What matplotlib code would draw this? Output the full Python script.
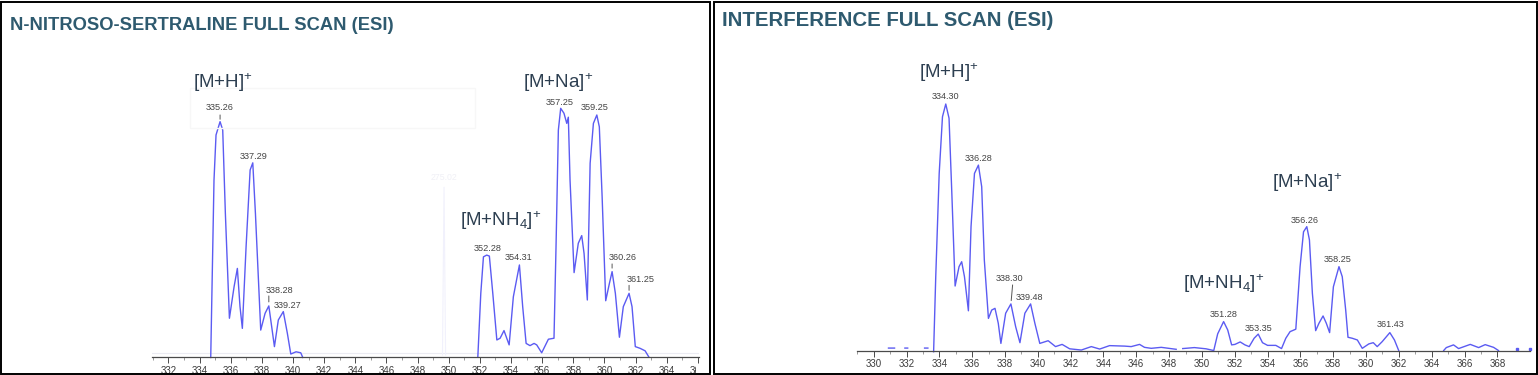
import numpy as np
import matplotlib
matplotlib.use('Agg')
import matplotlib.pyplot as plt
from matplotlib.patches import Rectangle
from matplotlib.transforms import Bbox, TransformedBbox

# ---- data: N-nitroso-sertraline full scan (m/z, relative intensity %)
nns_mz = [334.72, 334.93, 335.06, 335.32, 335.49, 335.66, 335.92, 336.22, 336.43, 336.60,
          336.75, 336.99, 337.25, 337.42, 337.59, 337.93, 338.21, 338.45, 338.81, 339.06,
          339.38, 339.64, 339.86, 340.20, 340.50, 340.63, np.nan,
          351.87, 352.06, 352.23, 352.44, 352.61, 352.83, 353.09, 353.30, 353.55, 353.88,
          354.15, 354.54, 354.75, 354.97, 355.22, 355.48, 355.65, 355.97, 356.40, 356.76,
          356.89, 357.04, 357.19, 357.40, 357.58, 357.68, 357.79, 358.05, 358.32, 358.54,
          358.69, 358.90, 359.08, 359.29, 359.51, 359.67, 359.85, 360.08, 360.32, 360.49,
          360.70, 360.96, 361.21, 361.58, 361.77, 361.98, 362.29, 362.61, 362.84]
nns_int = [-1.0, 70.9, 89.2, 94.6, 91.2, 57.4, 14.9, 27.7, 35.1, 19.6,
           10.8, 43.9, 75.0, 77.9, 57.4, 10.1, 16.9, 19.9, 3.4, 14.2,
           17.6, 8.8, 0.4, 1.3, 0.9, -1.0, np.nan,
           -0.7, 25.0, 39.8, 40.5, 40.1, 25.0, 6.1, 6.8, 9.9, 4.1,
           23.6, 36.5, 19.6, 4.7, 3.8, 4.7, 4.1, 0.9, 6.4, 6.8,
           43.9, 91.2, 100.0, 98.0, 93.9, 96.4, 70.9, 33.4, 45.3, 48.4,
           41.2, 22.3, 77.7, 93.9, 97.3, 92.5, 64.2, 22.0, 29.1, 33.8,
           25.0, 7.2, 19.6, 25.0, 19.6, 3.4, 2.7, 1.7, -0.7]
nns_ghost_mz = [349.60, 349.70, 349.80]
nns_ghost_int = [0.0, 68.0, 0.0]
nns_noise_mz = [330.93, 366.1]
nns_noise_int = [0.8, 0.8]

nns_labels = ['335.26', '337.29', '338.28', '339.27', '352.28', '354.31',
              '357.25', '359.25', '360.26', '361.25']
nns_label_mz = [335.32, 337.42, 338.45, 339.38, 352.44, 354.54,
                357.19, 359.51, 360.49, 361.58]
nns_label_int = [94.6, 77.9, 19.9, 17.6, 40.5, 36.5, 100.0, 97.3, 33.8, 25.0]
nns_ticks = list(range(332, 368, 2))

# ---- data: interference full scan
itf_mz = [330.90, 331.27, np.nan, 331.90, 332.07, np.nan, 333.10, 333.30, np.nan,
          333.65, 333.78, 333.99, 334.19, 334.39, 334.59, 334.76, 334.96, 335.20, 335.36,
          335.53, 335.77, 335.93, 336.14, 336.38, 336.58, 336.74, 336.99, 337.19, 337.39,
          337.59, 337.75, 338.04, 338.36, 338.65, 338.91, 339.21, 339.56, 339.82, 340.12,
          340.63, 341.08, 341.48, 341.94, 342.65, 343.26, 343.77, 344.37, 345.29, 345.69,
          346.20, 346.50, 346.91, 347.52, 348.43, np.nan,
          348.83, 349.54, 350.25, 350.72, 350.96, 351.32, 351.57, 351.81, 352.01, 352.33,
          352.62, 352.88, 353.18, 353.43, 353.69, 354.00, 354.50, 354.85, 355.11, 355.37,
          355.72, 355.98, 356.19, 356.39, 356.55, 356.73, 356.93, 357.13, 357.38, 357.58,
          357.78, 358.01, 358.35, 358.55, 358.76, 358.90, 359.16, 359.47, 359.77, 360.17,
          360.44, 360.68, 360.98, 361.45, 361.73, 361.99, np.nan,
          364.73, 364.89, 365.33, 365.64, 366.35, 366.86, 367.26, 367.77, 368.07]
itf_int = [0.5, 0.5, np.nan, 0.5, 0.5, np.nan, 0.5, 0.5, np.nan,
           -1.0, 29.6, 71.7, 94.8, 100.0, 94.2, 63.6, 25.8, 33.7, 35.7,
           29.6, 15.7, 50.0, 71.7, 75.1, 66.3, 36.4, 12.6, 16.0, 16.7,
           10.6, 2.4, 14.7, 18.5, 9.2, 2.7, 14.7, 18.5, 10.6, 2.4,
           3.5, 1.1, 2.0, 0.2, -0.3, 1.1, 0.1, 1.5, 1.3, 1.1,
           2.0, 0.8, 0.4, 0.8, 0.0, np.nan,
           0.3, 0.7, 0.2, -0.5, 6.3, 11.3, 7.9, 1.8, 2.0, 3.0,
           1.8, 1.1, 4.5, 6.2, 2.7, 1.6, 1.6, 0.3, 4.5, 7.2,
           8.2, 33.7, 47.9, 50.0, 44.6, 22.8, 7.6, 10.6, 13.6, 10.6,
           6.8, 25.5, 33.7, 29.6, 16.0, 4.9, 4.5, 3.8, 0.4, 2.2,
           2.7, 1.1, 3.1, 6.8, 3.8, -0.5, np.nan,
           -0.5, 0.7, 1.8, 0.3, 2.0, 0.7, 1.9, 0.8, -0.5]
itf_dot_mz = [369.19, 370.0]
itf_dot_int = [0.0, 0.0]

itf_labels = ['334.30', '336.28', '338.30', '339.48', '351.28', '353.35',
              '356.26', '358.25', '361.43']
itf_label_mz = [334.39, 336.38, 338.36, 339.56, 351.32, 353.43, 356.39, 358.35, 361.45]
itf_label_int = [100.0, 75.1, 18.5, 18.5, 11.3, 6.2, 50.0, 33.7, 6.8]
itf_ticks = list(range(330, 370, 2))

# ---- style / layout
W, H = 1538, 375
TRACE = '#5b5bf2'
TITLE = '#2e5a6f'
ION = '#2d3f51'
GREY = '#3c3c3c'
SANS = ['Liberation Sans', 'DejaVu Sans']
NARROW = ['Liberation Sans Narrow', 'Liberation Sans', 'DejaVu Sans']

plt.rcParams['mathtext.fontset'] = 'custom'
plt.rcParams['mathtext.rm'] = 'Liberation Sans'
plt.rcParams['mathtext.it'] = 'Liberation Sans'


def box(left, top, right, bottom):
    return [left / W, 1 - bottom / H, (right - left) / W, (bottom - top) / H]


def fx(x):
    return x / W


def fy(y):
    return 1 - y / H


fig = plt.figure(figsize=(W / 100, H / 100), dpi=100)

# panel frames
for l, r in [(0.5, 709.5), (713.5, 1536.5)]:
    fig.patches.append(Rectangle((fx(l), fy(374)), fx(r - l), (373 - 1) / H,
                                 transform=fig.transFigure, fill=False,
                                 edgecolor='black', lw=1.4))


def style_axis(ax, ticks, xlim, ylim):
    ax.set_xlim(*xlim)
    ax.set_ylim(*ylim)
    ax.set_yticks([])
    for s in ['top', 'right', 'left']:
        ax.spines[s].set_visible(False)
    ax.spines['bottom'].set_color('#4a4a4a')
    ax.spines['bottom'].set_linewidth(0.9)
    ax.set_facecolor('none')
    ax.set_xticks(ticks)
    ax.set_xticks(np.arange(ticks[0] - 1, ticks[-1] + 1, 1), minor=True)
    ax.tick_params(axis='x', which='major', length=4, width=0.7, color='#4a4a4a',
                   labelsize=7, labelcolor=GREY, pad=2)
    ax.tick_params(axis='x', which='minor', length=2, width=0.6, color='#8a8a8a')
    for lbl in ax.get_xticklabels():
        lbl.set_family(NARROW)


def peak_labels(ax, texts, mz, inten, offs, ticks):
    for t, x, y, (dx, dy), tk in zip(texts, mz, inten, offs, ticks):
        ax.annotate(t, xy=(x, y), xytext=(dx * 0.72, dy * 0.72), textcoords='offset points',
                    ha='center', va='center', fontsize=6.6, color='#454545',
                    family=NARROW, annotation_clip=False)
        if tk is not None:
            tx, t0, t1 = tk
            ax.annotate('', xy=(x, y), xytext=(tx * 0.72, t1 * 0.72), textcoords='offset points',
                        arrowprops=dict(arrowstyle='-', color='#555555', lw=0.7,
                                        shrinkA=0, shrinkB=t0 * 0.72))


# ---- left panel
ax1 = fig.add_axes(box(151.7, 40, 699, 357.3))
ax1.plot(nns_noise_mz, nns_noise_int, color='#ebebf2', lw=0.8)
ax1.plot(nns_ghost_mz, nns_ghost_int, color='#f1f1fc', lw=0.8)
ax1.text(349.7, 72, '275.02', ha='center', va='center', fontsize=6.3, color='#f0f0f6',
         family=NARROW)
ax1.plot(nns_mz, nns_int, color=TRACE, lw=1.0, clip_on=False, solid_joinstyle='round')
style_axis(ax1, nns_ticks, (330.93, 366.07), (-0.93, 127.7))
clip = TransformedBbox(Bbox([[0, 0], [696 / W, 1]]), fig.transFigure)
for lbl in ax1.get_xticklabels():
    lbl.set_clip_box(clip)
    lbl.set_clip_on(True)

nns_offs = [(-0.7, 14.4), (0.6, 6.0), (10.6, 15.3), (4.0, 6.5), (0.6, 6.7), (-1.0, 7.3),
            (-0.7, 6.3), (-1.7, 7.3), (10.7, 14.0), (11.7, 14.0)]
nns_tick = [(0, 2.4, 6.7), None, (0, 4, 10), None, None, None, None, None,
            (0, 3.5, 7.7), (0, 3, 8)]
peak_labels(ax1, nns_labels, nns_label_mz, nns_label_int, nns_offs, nns_tick)

# faint box behind the [M+H]+ label
fig.patches.append(Rectangle((fx(190), fy(128)), fx(285), 40 / H, transform=fig.transFigure,
                             fill=False, edgecolor='#f7f7f7', lw=1.0))

# ---- right panel
ax2 = fig.add_axes(box(857.3, 40, 1530, 350.7))
ax2.plot(itf_mz, itf_int, color=TRACE, lw=1.0, clip_on=False, solid_joinstyle='round')
ax2.plot(itf_dot_mz, itf_dot_int, 's', color=TRACE, ms=2, clip_on=False)
style_axis(ax2, itf_ticks, (329.125, 369.99), (-0.57, 126.1))

itf_offs = [(0, 7.3), (0, 6.7), (-1.3, 25.7), (-1.0, 6.7), (0, 7.4), (0, 6.0),
            (-2.0, 5.7), (-1.3, 6.7), (1.0, 7.7)]
itf_tick = [None, None, (1.7, 3.3, 19), None, None, None, None, None, None]
peak_labels(ax2, itf_labels, itf_label_mz, itf_label_int, itf_offs, itf_tick)

# ---- titles and ion labels
fig.text(fx(10), fy(25), 'N-NITROSO-SERTRALINE FULL SCAN (ESI)', fontsize=13.2,
         fontweight='bold', color=TITLE, family=SANS, ha='left', va='center')
fig.text(fx(722), fy(20), 'INTERFERENCE FULL SCAN (ESI)', fontsize=14.7,
         fontweight='bold', color=TITLE, family=SANS, ha='left', va='center')

ions = [('[M+H]$^{+}$', 223, 83), ('[M+Na]$^{+}$', 558, 83),
        ('[M+NH$_{4}$]$^{+}$', 501, 221), ('[M+H]$^{+}$', 949, 73),
        ('[M+Na]$^{+}$', 1307, 183), ('[M+NH$_{4}$]$^{+}$', 1224, 284)]
for txt, x, y in ions:
    fig.text(fx(x), fy(y), txt, fontsize=13.5, color=ION, family=SANS,
             ha='center', va='center')

fig.savefig('out.png', dpi=100)
